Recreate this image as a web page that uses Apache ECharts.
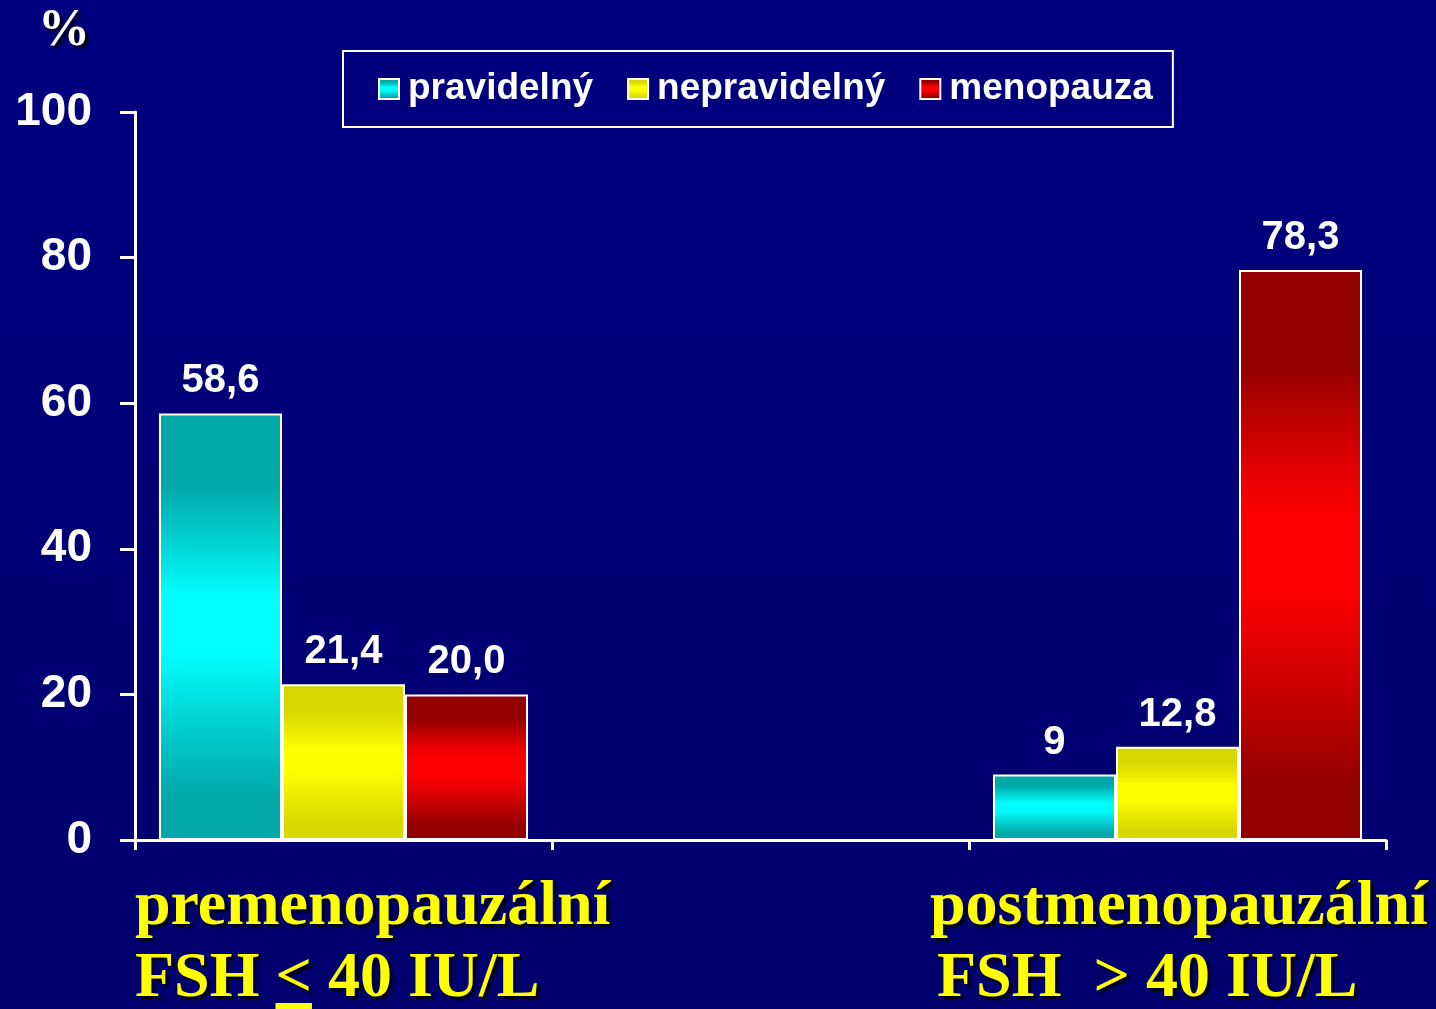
<!DOCTYPE html>
<html>
<head>
<meta charset="utf-8">
<title>FSH</title>
<script src="https://cdn.jsdelivr.net/npm/echarts@6/dist/echarts.min.js"></script>
<style>
  html, body { margin: 0; padding: 0; background: #000080; }
  #chart { width: 1436px; height: 1009px; }
</style>
</head>
<body>
<div id="chart"></div>
<script>
/* pravidelny / nepravidelny / menopauza by FSH group, middle slot left empty as in the slide */
const categories = ['premenopauzální', '', 'postmenopauzální'];
const subPre = ['FSH ', '', 'FSH  '];
const subSign = ['<', '', '>'];
const subPost = [' 40 IU/L', '', ' 40 IU/L'];
const signUnderlined = [true, false, false];
const seriesNames = ['pravidelný', 'nepravidelný', 'menopauza'];
const pravidelny = [58.6, null, 9];
const nepravidelny = [21.4, null, 12.8];
const menopauza = [20.0, null, 78.3];
const valueLabels = [
  ['58,6', '', '9'],
  ['21,4', '', '12,8'],
  ['20,0', '', '78,3'],
];
const yTicks = [0, 20, 40, 60, 80, 100];

const chart = echarts.init(document.getElementById('chart'));

const grad = (dark, mid, bright) => ({
  type: 'linear', x: 0, y: 0, x2: 0, y2: 1,
  colorStops: [
    { offset: 0, color: dark },
    { offset: 0.17, color: dark },
    { offset: 0.3, color: mid },
    { offset: 0.43, color: bright },
    { offset: 0.56, color: bright },
    { offset: 0.72, color: mid },
    { offset: 0.9, color: dark },
    { offset: 1, color: dark },
  ],
});
const fills = [
  grad('#00a8a8', '#00d2d2', '#00ffff'),
  grad('#d8d800', '#eaea00', '#ffff00'),
  grad('#940000', '#d00000', '#ff0000'),
];

const sans = '"Liberation Sans", Arial, sans-serif';
const serif = '"Liberation Serif", "Times New Roman", serif';
const capFont = 'bold 64px ' + serif;
const yellowText = {
  fill: '#ffff00', font: capFont,
  textShadowColor: 'rgba(0,0,0,0.9)', textShadowBlur: 2,
  textShadowOffsetX: 3, textShadowOffsetY: 3,
};

const series = [pravidelny, nepravidelny, menopauza].map((vals, si) => ({
  name: seriesNames[si], type: 'bar', data: vals,
  barGap: '0%', barCategoryGap: '11.5%',
  itemStyle: { color: fills[si], borderColor: '#ffffff', borderWidth: 2 },
  label: {
    show: true, position: 'top', distance: 12,
    color: '#ffffff', fontFamily: sans, fontWeight: 'bold', fontSize: 40,
    formatter: (p) => valueLabels[si][p.dataIndex],
  },
}));

// category captions under the axis, two lines each, left aligned
const captionX = [135, null, 930];
const captionX2 = [135, null, 937];
const textW = (s) => echarts.format.getTextRect(s, capFont).width;
const graphics = [
  { type: 'text', left: 38, top: 6, silent: true,
    style: { text: '%', fill: '#ffffff', font: 'bold 52px ' + serif,
      textShadowColor: 'rgba(0,0,0,0.9)', textShadowBlur: 3,
      textShadowOffsetX: 3, textShadowOffsetY: 3 } },
];
categories.forEach((c, i) => {
  if (!c) return;
  const line2 = subPre[i] + subSign[i] + subPost[i];
  graphics.push(
    { type: 'text', x: captionX[i], y: 907, silent: true,
      style: Object.assign({ text: c, verticalAlign: 'middle' }, yellowText) },
    { type: 'text', x: captionX2[i], y: 979, silent: true,
      style: Object.assign({ text: line2, verticalAlign: 'middle' }, yellowText) },
  );
  if (signUnderlined[i]) {
    const x0 = captionX2[i] + textW(subPre[i]);
    graphics.push({ type: 'rect', silent: true,
      shape: { x: x0, y: 1003, width: textW(subSign[i]), height: 7 },
      style: { fill: '#ffff00' } });
  }
});

chart.setOption({
  backgroundColor: {
    type: 'linear', x: 0, y: 0, x2: 0, y2: 1,
    colorStops: [{ offset: 0, color: '#000080' }, { offset: 1, color: '#00006e' }],
  },
  animation: false,
  grid: { left: 135, right: 50, top: 112, bottom: 169 },
  legend: {
    left: 343, top: 51,
    padding: [16, 20, 16, 35],
    borderColor: '#ffffff', borderWidth: 2,
    itemWidth: 20, itemHeight: 20, itemGap: 34,
    icon: 'rect',
    data: seriesNames,
    textStyle: {
      color: '#ffffff', fontFamily: sans, fontWeight: 'bold', fontSize: 37,
      lineHeight: 36, padding: [8, 0, 0, 4],
    },
  },
  xAxis: {
    type: 'category', data: categories,
    axisLine: { lineStyle: { color: '#ffffff', width: 3 } },
    axisTick: { show: true, length: 10, lineStyle: { color: '#ffffff', width: 3 } },
    axisLabel: { show: false },
    splitLine: { show: false },
  },
  yAxis: {
    type: 'value', min: yTicks[0], max: yTicks[yTicks.length - 1], interval: 20,
    axisLine: { show: true, lineStyle: { color: '#ffffff', width: 3 } },
    axisTick: { show: true, length: 15, lineStyle: { color: '#ffffff', width: 3 } },
    axisLabel: { color: '#ffffff', fontFamily: sans, fontWeight: 'bold', fontSize: 46, margin: 43 },
    splitLine: { show: false },
  },
  series,
  graphic: graphics,
});
</script>
</body>
</html>
